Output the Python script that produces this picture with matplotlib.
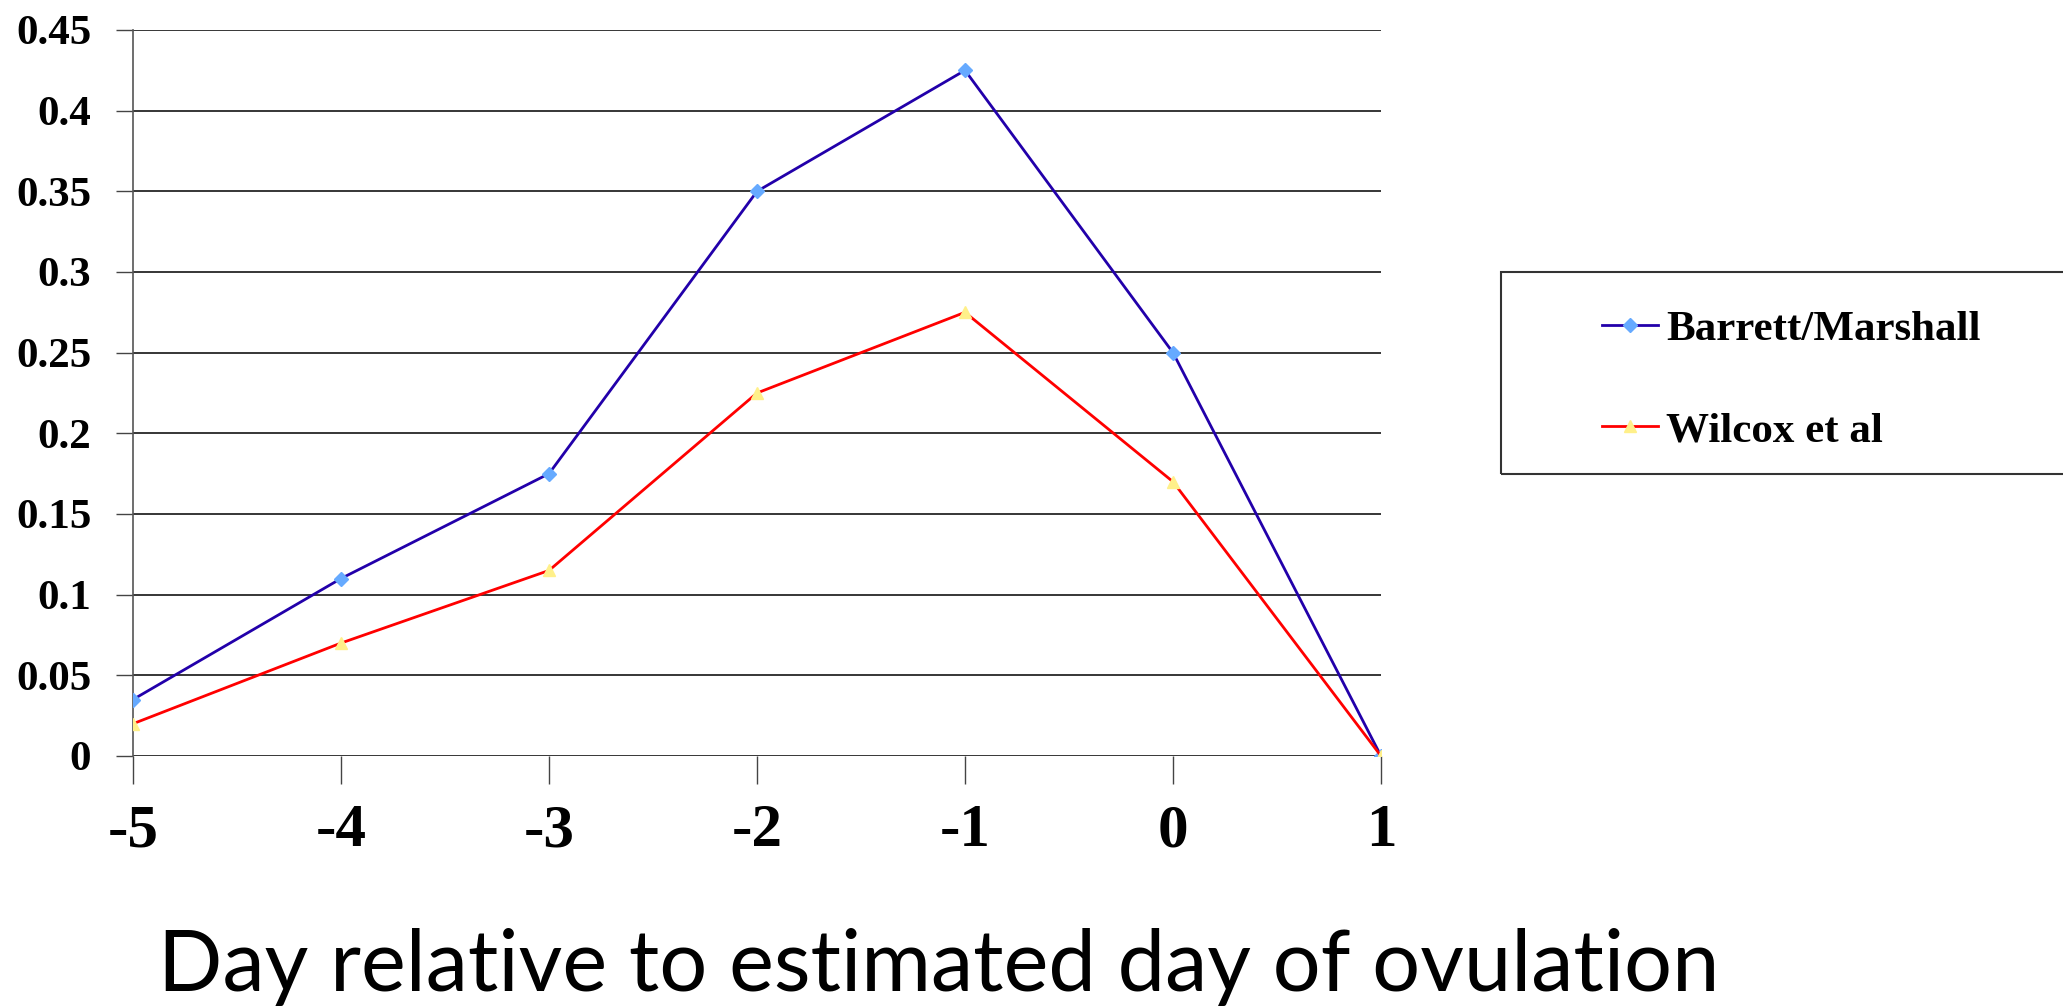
import matplotlib.pyplot as plt
from matplotlib.patches import Rectangle

# Datos
dias = [-5, -4, -3, -2, -1, 0, 1]
barrett_marshall = [0.035, 0.11, 0.175, 0.35, 0.425, 0.25, 0.0]
wilcox = [0.02, 0.07, 0.115, 0.225, 0.275, 0.17, 0.0]
y_ticks = [0, 0.05, 0.1, 0.15, 0.2, 0.25, 0.3, 0.35, 0.4, 0.45]
y_labels = ["0", "0.05", "0.1", "0.15", "0.2", "0.25", "0.3", "0.35", "0.4", "0.45"]
x_labels = ["-5", "-4", "-3", "-2", "-1", "0", "1"]

SERIF = "Liberation Serif"

fig = plt.figure(figsize=(20.63, 10.08), dpi=100)
ax = fig.add_axes([133 / 2063, 1 - 756 / 1008, (1381 - 133) / 2063, (756 - 30) / 1008])

linea_b, = ax.plot(dias, barrett_marshall, color="#2200AA", lw=2, marker="D", ms=7,
                   mfc="#66AAFF", mec="#66AAFF", label="Barrett/Marshall", zorder=3)
linea_w, = ax.plot(dias, wilcox, color="#FF0000", lw=2, marker="^", ms=9,
                   mfc="#FFF08A", mec="#FFF08A", label="Wilcox et al", zorder=3)

ax.set_xlim(-5, 1)
ax.set_ylim(0, 0.45)
ax.set_xticks(dias)
ax.set_xticklabels(x_labels, fontfamily=SERIF, fontweight="bold", fontsize=44)
ax.set_yticks(y_ticks)
ax.set_yticklabels(y_labels, fontfamily=SERIF, fontweight="bold", fontsize=31)
ax.tick_params(axis="x", direction="out", length=20, width=1, pad=14, color="#444444")
ax.tick_params(axis="y", direction="out", length=12, width=1, pad=18, color="#444444")
ax.grid(axis="y", color="black", lw=1.1)
ax.set_axisbelow(True)
for lado in ["top", "right", "bottom"]:
    ax.spines[lado].set_visible(False)
ax.spines["left"].set_color("#555555")
ax.spines["left"].set_linewidth(1.2)

fig.text(158 / 2063, 1 - 967 / 1008, "Day relative to estimated day of ovulation",
         fontfamily="Lato", fontsize=61, va="center", ha="left")

# Caja de la leyenda
fig.patches.append(Rectangle((1501 / 2063, 1 - 474 / 1008), 600 / 2063, 202 / 1008,
                             transform=fig.transFigure, fill=False, ec="#333333", lw=1.5))
fig.legend(handles=[linea_b, linea_w], loc="center left",
           bbox_to_anchor=(1563 / 2063, 1 - 380 / 1008), frameon=False,
           prop={"family": SERIF, "weight": "bold", "size": 31},
           handlelength=1.3, handletextpad=0.2, labelspacing=1.45, markerscale=1.0)

plt.savefig("out.png", dpi=100)
